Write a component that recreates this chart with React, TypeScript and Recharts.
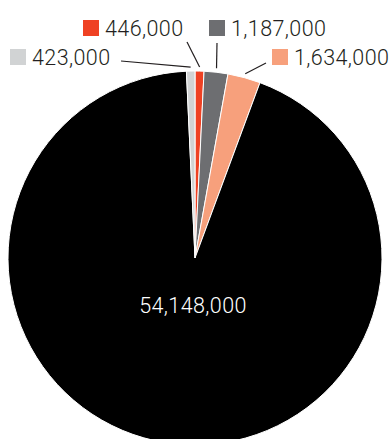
import React from 'react';
import { PieChart, Pie, Cell } from 'recharts';

const names = ['Red', 'Dark gray', 'Salmon', 'Black', 'Light gray'];
const values = [446000, 1187000, 1634000, 54148000, 423000];
const colors = ['#ef4123', '#6d6e71', '#f7a07c', '#000000', '#d1d3d4'];

// where each callout sits, relative to the pie centre
const callouts: Record<string, { lx: number; ly: number; bx: number; by: number }> = {
  Red: { lx: -8, ly: -216, bx: -112, by: -238 },
  'Dark gray': { lx: 22, ly: -215, bx: 14, by: -238 },
  Salmon: { lx: 71, ly: -195, bx: 77, by: -209 },
  'Light gray': { lx: -74, ly: -197, bx: -185, by: -209 },
};

const chartData = names.map((name, i) => ({ name, value: values[i] }));

const RAD = Math.PI / 180;
const FONT = 'Roboto, "Liberation Sans", Arial, sans-serif';

const renderLabel = (props: any) => {
  const { cx, cy, midAngle, outerRadius, index } = props;
  const name = names[index];
  const text = values[index].toLocaleString('en-US');

  if (name === 'Black') {
    return (
      <text x={cx - 2} y={cy + 47} fill="#ffffff" fontSize={21.5} fontWeight={300}
        fontFamily={FONT} letterSpacing={0.4} textAnchor="middle" dominantBaseline="central">
        {text}
      </text>
    );
  }

  const c = callouts[name];
  const r = outerRadius + 4;
  const sx = cx + r * Math.cos(-midAngle * RAD);
  const sy = cy + r * Math.sin(-midAngle * RAD);

  return (
    <g>
      <line x1={sx} y1={sy} x2={cx + c.lx} y2={cy + c.ly} stroke="#231f20" strokeWidth={1.2} />
      <rect x={cx + c.bx} y={cy + c.by} width={16} height={16} fill={colors[index]} />
      <text x={cx + c.bx + 22} y={cy + c.by + 8.5} fill="#231f20" fontSize={21.5} fontWeight={300}
        fontFamily={FONT} letterSpacing={0.4} dominantBaseline="central">
        {text}
      </text>
    </g>
  );
};

export default function App() {
  return (
    <div style={{ position: 'absolute', left: 0, top: 0, width: 391, height: 460, background: '#fff' }}>
      <PieChart width={391} height={460} margin={{ top: 0, right: 0, bottom: 0, left: 0 }}>
        <Pie
          data={chartData}
          dataKey="value"
          nameKey="name"
          cx={195}
          cy={258}
          outerRadius={187}
          startAngle={90}
          endAngle={-270}
          stroke="#ffffff"
          strokeWidth={1}
          label={renderLabel}
          labelLine={false}
          isAnimationActive={false}
        >
          {chartData.map((d, i) => (
            <Cell key={d.name} fill={colors[i]} />
          ))}
        </Pie>
      </PieChart>
    </div>
  );
}
